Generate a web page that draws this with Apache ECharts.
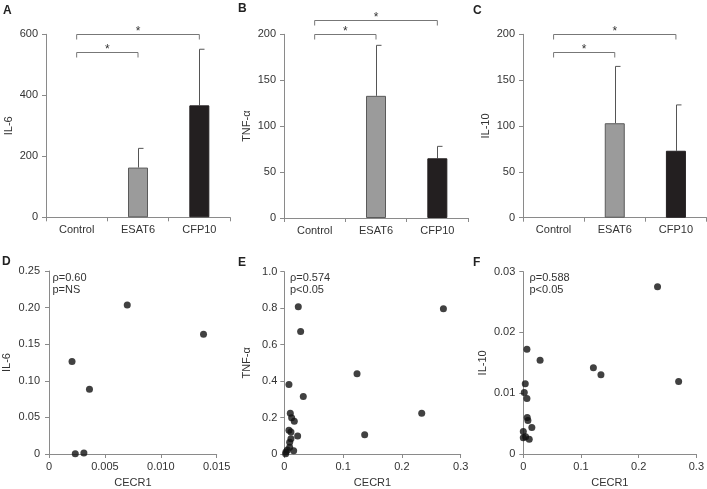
<!DOCTYPE html>
<html>
<head>
<meta charset="utf-8">
<script src="https://cdn.jsdelivr.net/npm/echarts@6/dist/echarts.min.js"></script>
<style>html,body{margin:0;padding:0;background:#fff}#c{width:707px;height:489px}</style>
</head>
<body>
<div id="c"></div>
<script>
// ---- data ----
var categories = ['Control', 'ESAT6', 'CFP10'];
var il6Mean = [0, 163, 367];
var il6SD = [0, 63, 184];
var tnfMean = [0, 133, 65];
var tnfSD = [0, 55, 13];
var il10Mean = [0, 103, 73];
var il10SD = [0, 62, 50];
// brackets: [fromCategory, toCategory, level]
var il6Brackets = [[0, 2, 600], [0, 1, 542]];
var tnfBrackets = [[0, 2, 216], [0, 1, 200]];
var il10Brackets = [[0, 2, 200], [0, 1, 181]];

var il6Points = [[0.00206,0.1264],[0.0070,0.2036],[0.01382,0.1636],[0.00362,0.0886],[0.00235,0.0005],[0.00312,0.0014]];
var tnfPoints = [[0.0238,0.808],[0.0278,0.672],[0.2706,0.797],[0.1237,0.440],[0.0079,0.381],[0.0323,0.316],[0.2337,0.223],[0.1367,0.106],[0.0102,0.224],[0.0125,0.199],[0.017,0.179],[0.0079,0.130],[0.0113,0.120],[0.0227,0.0985],[0.0113,0.084],[0.0091,0.064],[0.0091,0.0365],[0.0051,0.022],[0.0159,0.018],[0.0028,0.011],[0.0023,0.002]];
var il10Points = [[0.2327,0.02754],[0.0063,0.01724],[0.0291,0.01544],[0.1215,0.01418],[0.1346,0.01303],[0.2693,0.01193],[0.0034,0.01155],[0.0017,0.01013],[0.0063,0.00914],[0.0068,0.00602],[0.008,0.00553],[0.0148,0.00438],[0.0,0.00372],[0.0,0.00268],[0.004,0.00285],[0.0103,0.00241]];

var stats = [['ρ=0.60','p=NS'],['ρ=0.574','p<0.05'],['ρ=0.588','p<0.05']];
var panelLetters = ['A','B','C','D','E','F'];

// ---- chart ----
var FONT = '"Liberation Sans", Arial, sans-serif';
var AXC = '#8a8a8a';
var TXT = '#333';
var chart = echarts.init(document.getElementById('c'), null, {renderer: 'canvas'});

var grids = [
  {left: 46, top: 34.3, width: 184, height: 183},
  {left: 284, top: 34.3, width: 184, height: 183.7},
  {left: 523, top: 34.3, width: 183.5, height: 183.4},
  {left: 46.7, top: 271, width: 170, height: 183.3},
  {left: 284.3, top: 271.7, width: 176.4, height: 182.6},
  {left: 523.3, top: 271.7, width: 175.4, height: 182.6}
];

function axisCommon() {
  return {
    axisLine: {show: true, lineStyle: {color: AXC, width: 1}},
    axisTick: {show: true, length: 4, inside: false, lineStyle: {color: AXC}},
    splitLine: {show: false},
    axisLabel: {color: TXT, fontSize: 11, fontFamily: FONT},
    nameTextStyle: {color: TXT, fontSize: 11, fontFamily: FONT}
  };
}

var xAxes = [], yAxes = [], series = [];

function fmt(d) {
  return function (v) { return v === 0 ? '0' : v.toFixed(d); };
}

function barPanel(gi, means, sds, max, interval, name, brackets) {
  var xa = axisCommon();
  xa.type = 'category'; xa.data = categories; xa.gridIndex = gi;
  xa.axisTick.alignWithLabel = false;
  xa.axisLabel.margin = 7; xa.axisLabel.interval = 0;
  xAxes.push(xa);
  var ya = axisCommon();
  ya.type = 'value'; ya.gridIndex = gi; ya.min = 0; ya.max = max; ya.interval = interval;
  ya.name = name; ya.nameLocation = 'middle'; ya.nameGap = 32;
  ya.axisLabel.margin = 8;
  yAxes.push(ya);
  series.push({
    type: 'bar', xAxisIndex: gi, yAxisIndex: gi, barWidth: 20,
    data: means.map(function (m, i) {
      return {value: m, itemStyle: {color: i === 2 ? '#231f20' : '#9b9b9b', borderColor: i === 2 ? '#231f20' : '#5a5a5a', borderWidth: m === 0 ? 0 : 1, opacity: m === 0 ? 0 : 1}};
    }),
    silent: true, animation: false
  });
  series.push({
    type: 'custom', xAxisIndex: gi, yAxisIndex: gi, clip: false, animation: false, silent: true,
    encode: {x: 0, y: 1},
    data: means.map(function (m, i) { return [i, m, m + sds[i], sds[i]]; }),
    renderItem: function (params, api) {
      if (api.value(3) === 0) return null;
      var p0 = api.coord([api.value(0), api.value(1)]);
      var p1 = api.coord([api.value(0), api.value(2)]);
      var x = Math.round(p0[0]) + 0.5;
      return {type: 'group', children: [
        {type: 'line', shape: {x1: x, y1: p0[1], x2: x, y2: p1[1]}, style: {stroke: '#555', lineWidth: 1}},
        {type: 'line', shape: {x1: x, y1: p1[1], x2: x + 5, y2: p1[1]}, style: {stroke: '#555', lineWidth: 1}}
      ]};
    }
  });
  series.push({
    type: 'custom', xAxisIndex: gi, yAxisIndex: gi, clip: false, animation: false, silent: true,
    encode: {x: 0, y: 2},
    data: brackets,
    renderItem: function (params, api) {
      var a = api.coord([api.value(0), api.value(2)]);
      var b = api.coord([api.value(1), api.value(2)]);
      var y = Math.round(a[1]) + 0.5;
      return {type: 'group', children: [
        {type: 'polyline', shape: {points: [[a[0], y + 5], [a[0], y], [b[0], y], [b[0], y + 5]]}, style: {stroke: '#777', lineWidth: 1, fill: null}},
        {type: 'text', style: {text: '*', x: (a[0] + b[0]) / 2, y: y + 3, textAlign: 'center', textVerticalAlign: 'bottom', fontSize: 12, fontFamily: FONT, fill: TXT}}
      ]};
    }
  });
}

function scatterPanel(gi, pts, xmax, xint, xdec, ymax, yint, ydec, name, nameGap, ymargin) {
  var xa = axisCommon();
  xa.type = 'value'; xa.gridIndex = gi; xa.min = 0; xa.max = xmax; xa.interval = xint;
  xa.axisLabel.formatter = fmt(xdec); xa.axisLabel.margin = 7;
  xa.name = 'CECR1'; xa.nameLocation = 'middle'; xa.nameGap = 23;
  xAxes.push(xa);
  var ya = axisCommon();
  ya.type = 'value'; ya.gridIndex = gi; ya.min = 0; ya.max = ymax; ya.interval = yint;
  ya.axisLabel.formatter = fmt(ydec); ya.axisLabel.margin = ymargin;
  ya.name = name; ya.nameLocation = 'middle'; ya.nameGap = nameGap;
  yAxes.push(ya);
  series.push({
    type: 'scatter', xAxisIndex: gi, yAxisIndex: gi, data: pts, symbolSize: 7,
    itemStyle: {color: '#111'}, silent: true, animation: false, clip: false
  });
}

barPanel(0, il6Mean, il6SD, 600, 200, 'IL-6', il6Brackets);
barPanel(1, tnfMean, tnfSD, 200, 50, 'TNF-α', tnfBrackets);
barPanel(2, il10Mean, il10SD, 200, 50, 'IL-10', il10Brackets);
scatterPanel(3, il6Points, 0.015, 0.005, 3, 0.25, 0.05, 2, 'IL-6', 37, 9);
scatterPanel(4, tnfPoints, 0.3, 0.1, 1, 1.0, 0.2, 1, 'TNF-α', 32, 7);
scatterPanel(5, il10Points, 0.3, 0.1, 1, 0.03, 0.01, 2, 'IL-10', 35, 8);

var letterPos = [[3, 5], [238, 3], [473, 5], [2, 256], [238, 257], [473, 257]];
var graphics = panelLetters.map(function (l, i) {
  return {type: 'text', left: letterPos[i][0], top: letterPos[i][1],
    style: {text: l, fontSize: 12, fontWeight: 'bold', fontFamily: FONT, fill: '#222'}};
});
var statPos = [[52.5, 271.5], [290, 271.5], [529.5, 271.5]];
stats.forEach(function (s, i) {
  graphics.push({type: 'text', left: statPos[i][0], top: statPos[i][1],
    style: {text: s[0] + '\n' + s[1], fontSize: 11, lineHeight: 12, fontFamily: FONT, fill: TXT}});
});

chart.setOption({
  animation: false,
  backgroundColor: '#fff',
  grid: grids,
  xAxis: xAxes,
  yAxis: yAxes,
  series: series,
  graphic: graphics
});
</script>
</body>
</html>
